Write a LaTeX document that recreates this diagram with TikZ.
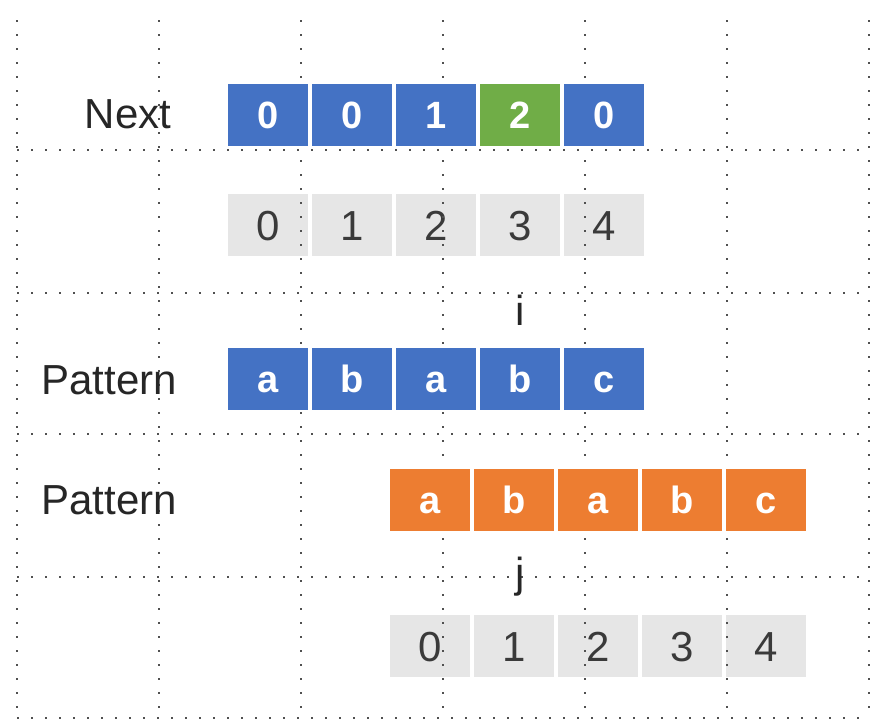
\documentclass[tikz,border=0pt]{standalone}
\usepackage{fontspec}
\setmainfont{Liberation Sans}
\usetikzlibrary{positioning}
\definecolor{nextblue}{HTML}{4472C4}
\definecolor{hitgreen}{HTML}{70AD47}
\definecolor{shiftorange}{HTML}{ED7D31}
\definecolor{idxgray}{HTML}{E6E6E6}
\definecolor{griddot}{HTML}{505050}
\definecolor{idxtext}{HTML}{3A3A3A}

\begin{document}
\begin{tikzpicture}[x=0.5pt, y=-0.5pt, node distance=0pt,
  cell/.style={draw=white, line width=1pt, minimum width=41pt, minimum height=32pt, inner sep=0pt, text depth=0pt},
  val/.style={cell, fill=nextblue, text=white, text height=13.7pt, font=\fontsize{19}{19}\selectfont\bfseries},
  idx/.style={cell, fill=idxgray, text=idxtext, text height=15.1pt, font=\fontsize{21}{21}\selectfont},
  lbl/.style={font=\fontsize{21}{21}\selectfont, text=black!85},
  dotline/.style={griddot, line width=1.1pt, dash pattern=on 1.1pt off 5.9pt}]
\useasboundingbox (0,0) rectangle (884,728);

% index rows
\node[idx] (k0) at (268,225) {0};
\node[idx] (k1) [right=of k0] {1};
\node[idx] (k2) [right=of k1] {2};
\node[idx] (k3) [right=of k2] {3};
\node[idx] (k4) [right=of k3] {4};

\node[idx] (m0) at (430,646) {0};
\node[idx] (m1) [right=of m0] {1};
\node[idx] (m2) [right=of m1] {2};
\node[idx] (m3) [right=of m2] {3};
\node[idx] (m4) [right=of m3] {4};

% dotted grid
\draw[dotline] (17,20) -- (17,718);
\draw[dotline] (159,20) -- (159,718);
\draw[dotline] (301,20) -- (301,718);
\draw[dotline] (443,20) -- (443,718);
\draw[dotline] (585,20) -- (585,718);
\draw[dotline] (727,20) -- (727,718);
\draw[dotline] (869,20) -- (869,718);
\draw[dotline] (17,150) -- (869,150);
\draw[dotline] (17,293) -- (869,293);
\draw[dotline] (17,434) -- (869,434);
\draw[dotline] (17,577) -- (869,577);
\draw[dotline] (17,718) -- (869,718);

% next array
\node[lbl] (next) at (128,114) {Next};
\node[val] (n0) at (268,115) {0};
\node[val] (n1) [right=of n0] {0};
\node[val] (n2) [right=of n1] {1};
\node[val, fill=hitgreen] (n3) [right=of n2] {2};
\node[val] (n4) [right=of n3] {0};

% pattern, pointer i
\node[lbl] (pat1) at (109,380) {Pattern};
\node[val] (p0) at (268,379) {a};
\node[val] (p1) [right=of p0] {b};
\node[val] (p2) [right=of p1] {a};
\node[val] (p3) [right=of p2] {b};
\node[val] (p4) [right=of p3] {c};
\node[lbl] (i) at (520,310) {i};

% shifted pattern, pointer j
\node[lbl] (pat2) at (109,500) {Pattern};
\node[val, fill=shiftorange] (q0) at (430,500) {a};
\node[val, fill=shiftorange] (q1) [right=of q0] {b};
\node[val, fill=shiftorange] (q2) [right=of q1] {a};
\node[val, fill=shiftorange] (q3) [right=of q2] {b};
\node[val, fill=shiftorange] (q4) [right=of q3] {c};
\node[lbl] (j) at (520,577) {j};
\end{tikzpicture}
\end{document}
